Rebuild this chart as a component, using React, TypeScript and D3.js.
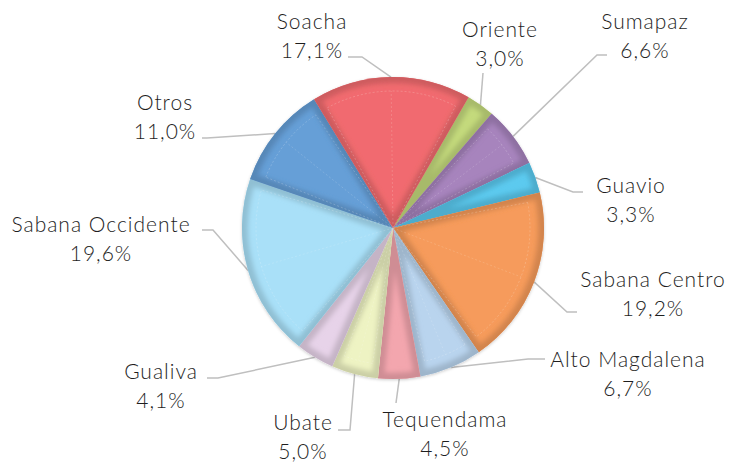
import React from "react";
import * as d3 from "d3";

const categories = ["Oriente", "Sumapaz", "Guavio", "Sabana Centro", "Alto Magdalena", "Tequendama", "Ubate", "Gualiva", "Sabana Occidente", "Otros", "Soacha"];
const values = [3.0, 6.6, 3.3, 19.2, 6.7, 4.5, 5.0, 4.1, 19.6, 11.0, 17.1];
const valueLabels = ["3,0%", "6,6%", "3,3%", "19,2%", "6,7%", "4,5%", "5,0%", "4,1%", "19,6%", "11,0%", "17,1%"];
const colors = ["#C4DA7C", "#A784BD", "#5CCAEF", "#F69B5B", "#B9D4EE", "#F3A6AE", "#EEF3C3", "#E7D3E9", "#A9E0F8", "#669FD7", "#F16B6F"];

// label layout: text center x, first baseline y, leader end point, leader elbow point
const labelLayout = [
  { x: 500, y: 37, end: [483, 73], elbow: [483, 73] },
  { x: 645, y: 29, end: [607, 55], elbow: [597, 55] },
  { x: 631, y: 193, end: [583, 192], elbow: [573, 192] },
  { x: 653, y: 287, end: [577, 312], elbow: [567, 312] },
  { x: 628, y: 367, end: [545, 359], elbow: [528, 359] },
  { x: 445, y: 427, end: [396, 403], elbow: [396, 403] },
  { x: 303, y: 430, end: [338, 430], elbow: [350, 430] },
  { x: 161, y: 379, end: [207, 378], elbow: [218, 378] },
  { x: 101, y: 232, end: [202, 230], elbow: [213, 230] },
  { x: 165, y: 110, end: [202, 138], elbow: [207, 138] },
  { x: 312, y: 29, end: [348, 57], elbow: [362, 57] },
];

const W = 730, H = 462;
const cx = 393, cy = 228, R = 151;

export default function App() {
  const pie = d3.pie<number>().sort(null).value((d) => d)
    .startAngle((30 * Math.PI) / 180).endAngle((30 * Math.PI) / 180 + 2 * Math.PI);
  const arcs = pie(values);
  const arc = d3.arc<d3.PieArcDatum<number>>().innerRadius(0).outerRadius(R);
  const edgeArc = d3.arc<d3.PieArcDatum<number>>().innerRadius(R).outerRadius(R);
  const font = "Lato, 'DejaVu Sans', sans-serif";
  return (
    <svg width={W} height={H} style={{ position: "absolute", left: 0, top: 0, background: "#fff" }}>
      <defs>
        <filter id="blur" x="-20%" y="-20%" width="140%" height="140%">
          <feGaussianBlur stdDeviation="2.5" />
        </filter>
        <filter id="shadow" x="-10%" y="-10%" width="120%" height="120%">
          <feDropShadow dx="0" dy="1" stdDeviation="1.5" floodColor="#000" floodOpacity="0.2" />
        </filter>
        {arcs.map((a, i) => (
          <clipPath id={`clip-${i}`} key={i}>
            <path d={arc(a) || ""} />
          </clipPath>
        ))}
      </defs>
      <g>
        {arcs.map((a, i) => {
          const [ex, ey] = edgeArc.centroid(a);
          const L = labelLayout[i];
          return (
            <polyline key={i}
              points={`${L.end[0]},${L.end[1]} ${L.elbow[0]},${L.elbow[1]} ${cx + ex},${cy + ey}`}
              fill="none" stroke="#BFBFBF" strokeWidth={1.5} />
          );
        })}
      </g>
      <g transform={`translate(${cx},${cy})`} filter="url(#shadow)">
        {arcs.map((a, i) => {
          const c = colors[i];
          const dark = d3.color(c)!.darker(0.45).formatHex();
          const d = arc(a) || "";
          const mid = (a.startAngle + a.endAngle) / 2;
          const ri = R - 14;
          const inner = d3.arc<any>().innerRadius(0).outerRadius(ri)
            .startAngle(a.startAngle + 0.05).endAngle(a.endAngle - 0.05)(a as any) || "";
          return (
            <g key={i}>
              <path d={d} fill={c} />
              <g clipPath={`url(#clip-${i})`}>
                <path d={d} fill="none" stroke={dark} strokeWidth={12} filter="url(#blur)" strokeLinejoin="round" />
                {a.endAngle - a.startAngle > 0.3 && (
                  <>
                    <path d={inner} fill="none" stroke="#fff" strokeOpacity={0.25} strokeWidth={0.8} strokeDasharray="2,2" />
                    <line x1={0} y1={0} x2={ri * Math.sin(mid)} y2={-ri * Math.cos(mid)} stroke="#fff" strokeOpacity={0.2} strokeWidth={0.8} strokeDasharray="2,2" />
                  </>
                )}
              </g>
            </g>
          );
        })}
      </g>
      <g fontFamily={font} fontSize={21} fontWeight={300} letterSpacing={1} fill="#1e1e1e" textAnchor="middle">
        {categories.map((c, i) => (
          <text key={i} x={labelLayout[i].x} y={labelLayout[i].y}>
            <tspan x={labelLayout[i].x}>{c}</tspan>
            <tspan x={labelLayout[i].x} dy={28.5}>{valueLabels[i]}</tspan>
          </text>
        ))}
      </g>
    </svg>
  );
}
